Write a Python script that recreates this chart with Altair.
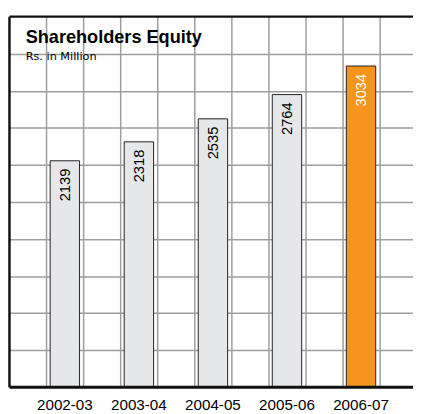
import altair as alt
import pandas as pd

# ---- data ----
years = ["2002-03", "2003-04", "2004-05", "2005-06", "2006-07"]
equity = [2139, 2318, 2535, 2764, 3034]
bar_kind = ["past", "past", "past", "past", "current"]
y_grid_values = [350, 700, 1050, 1400, 1750, 2100, 2450, 2800, 3150]
x_grid_cols = [1, 2, 3, 4, 5, 6, 7, 8, 9, 10]
title_text = ["Shareholders Equity"]
subtitle_text = ["Rs. in Million"]

# ---- layout / style ----
W = 411.5
H = 378
CELL = 37.8
FONT = "Liberation Sans"
GRID = "#9d9d9d"
FRAME = "#111111"

df = pd.DataFrame({"year": years, "equity": equity, "kind": bar_kind})
grid_df = pd.DataFrame({"col": x_grid_cols})
one = pd.DataFrame({"a": [0]})

xscale = alt.Scale(domain=years, paddingInner=0.603, paddingOuter=0.5267, align=0.5218)
yscale = alt.Scale(domain=[0, 3500], nice=False, zero=True)

x_enc = alt.X("year:N", scale=xscale, sort=years,
              axis=alt.Axis(title=None, domain=False, ticks=False, grid=False,
                            labelAngle=0, labelFont=FONT, labelFontSize=15.5,
                            labelColor="#000000", labelPadding=11, labelBaseline="top"))
y_enc = alt.Y("equity:Q", scale=yscale,
              axis=alt.Axis(title=None, labels=False, ticks=False, domain=False,
                            grid=True, values=y_grid_values, gridColor=GRID,
                            gridWidth=1.5, gridOpacity=1))

vgrid = alt.Chart(grid_df).mark_rule(color=GRID, strokeWidth=1.5).encode(
    x=alt.X("col:Q", scale=alt.Scale(domain=[0, W / CELL], nice=False, zero=False), axis=None)
)

bars = alt.Chart(df).mark_bar(stroke="#231f20", strokeWidth=1).encode(
    x=x_enc,
    y=y_enc,
    color=alt.Color("kind:N", scale=alt.Scale(domain=["past", "current"],
                                              range=["#e6e7e9", "#f7941d"]), legend=None),
)

labels = alt.Chart(df).mark_text(angle=270, align="right", baseline="middle", dx=-8,
                                 font=FONT, fontSize=15).encode(
    x=alt.X("year:N", scale=xscale, sort=years),
    y=alt.Y("equity:Q", scale=yscale),
    text=alt.Text("equity:Q", format="d"),
    stroke=alt.value(None),
    fill=alt.Fill("kind:N", scale=alt.Scale(domain=["past", "current"],
                                            range=["#000000", "#ffffff"]), legend=None),
)

data_layer = alt.layer(bars, labels).resolve_scale(color="independent", fill="independent")

left_border = alt.Chart(one).mark_rule(color=FRAME, strokeWidth=2.5).encode(
    x=alt.value(0), y=alt.value(0), y2=alt.value(H))
top_border = alt.Chart(one).mark_rule(color=FRAME, strokeWidth=2.3).encode(
    x=alt.value(0), x2=alt.value(W), y=alt.value(0))
bottom_border = alt.Chart(one).mark_rule(color=FRAME, strokeWidth=3).encode(
    x=alt.value(0), x2=alt.value(W), y=alt.value(H))

title = alt.Chart(pd.DataFrame({"t": title_text})).mark_text(
    align="left", baseline="alphabetic", font=FONT, fontSize=18.5, fontWeight="bold",
    color="#000000").encode(x=alt.value(16.5), y=alt.value(26.7), text="t:N")
subtitle = alt.Chart(pd.DataFrame({"t": subtitle_text})).mark_text(
    align="left", baseline="alphabetic", font="DejaVu Sans", fontSize=11.5,
    color="#000000").encode(x=alt.value(16.5), y=alt.value(44.4), text="t:N")

chart = alt.layer(vgrid, data_layer, left_border, top_border, bottom_border,
                  title, subtitle).resolve_scale(x="independent").properties(
    width=W, height=H,
    padding={"left": 1.5, "top": 4.8, "right": 0, "bottom": 23.2},
    autosize=alt.AutoSizeParams(type="none"),
    background="#ffffff",
).configure_view(stroke=None)

chart.save("out.html", embed_options={"renderer": "svg", "actions": False})
